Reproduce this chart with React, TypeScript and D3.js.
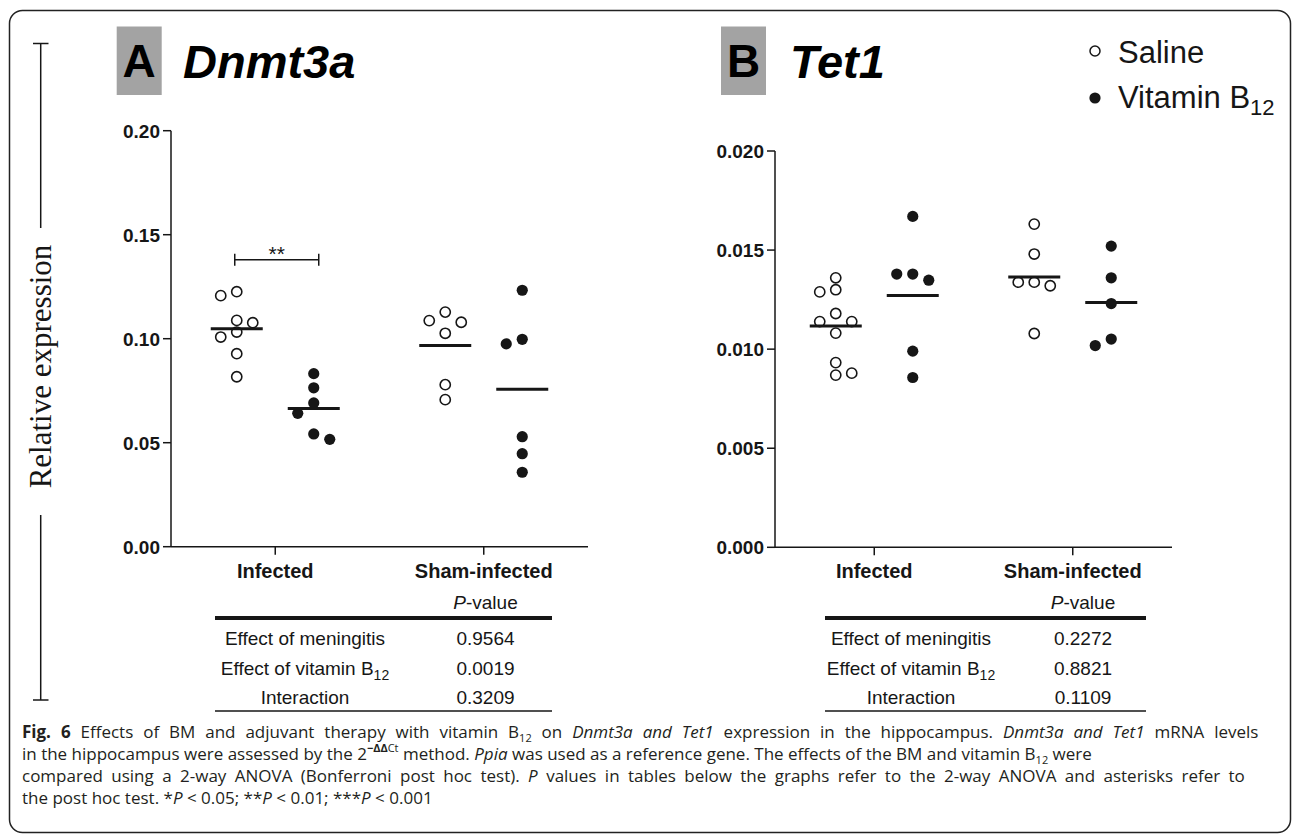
import React from 'react';
import * as d3 from 'd3';

// categories / groups
const categories = ['Infected', 'Sham-infected'];
const treatments = ['Saline', 'Vitamin B12'];

// Dnmt3a relative expression
const dnmt3aInfSaline = [0.1226, 0.1207, 0.1088, 0.1077, 0.1032, 0.1008, 0.0928, 0.0817];
const dnmt3aInfB12 = [0.0832, 0.0764, 0.0691, 0.0641, 0.0542, 0.0516];
const dnmt3aShamSaline = [0.1128, 0.1087, 0.1079, 0.1026, 0.0779, 0.0707];
const dnmt3aShamB12 = [0.1233, 0.0997, 0.0975, 0.0529, 0.0447, 0.0358];
const dnmt3aTicks = [0, 0.05, 0.1, 0.15, 0.2];
const dnmt3aPValues = ['0.9564', '0.0019', '0.3209'];
const dnmt3aSignif = { category: 'Infected', level: 0.138, label: '**' };

// Tet1 relative expression
const tet1InfSaline = [0.0136, 0.013, 0.01289, 0.0118, 0.01139, 0.01139, 0.01081, 0.00932, 0.00869, 0.00879];
const tet1InfB12 = [0.0167, 0.01379, 0.01348, 0.01379, 0.0099, 0.00857];
const tet1ShamSaline = [0.01631, 0.0148, 0.01338, 0.0132, 0.01338, 0.01079];
const tet1ShamB12 = [0.0152, 0.0136, 0.0123, 0.01051, 0.01018];
const tet1Ticks = [0, 0.005, 0.01, 0.015, 0.02];
const tet1PValues = ['0.2272', '0.8821', '0.1109'];

const effectLabels = ['Effect of meningitis', 'Effect of vitamin B', 'Interaction'];

const SANS = '"Liberation Sans", Arial, sans-serif';
const INK = '#161616';

// simple dot-plot dodge, similar to GraphPad column scatter
function swarm(values, y, cx) {
  const step = 8;
  const placed = [];
  let flip = -1;
  const sorted = values.map((v, i) => ({ v, i })).sort((a, b) => b.v - a.v);
  sorted.forEach((p) => {
    const py = y(p.v);
    let chosen = 0;
    for (let k = 0; k < 12; k++) {
      const cands = k === 0 ? [0] : [flip * k * step, -flip * k * step];
      const ok = cands.find((dx) =>
        placed.every((q) => Math.abs(q.y - py) >= 11 || Math.abs(q.dx - dx) >= 16)
      );
      if (ok !== undefined) {
        chosen = ok;
        break;
      }
    }
    if (chosen !== 0) flip = chosen > 0 ? -1 : 1;
    placed.push({ dx: chosen, y: py, v: p.v, i: p.i });
  });
  return placed.map((p) => ({ x: cx + p.dx, y: p.y }));
}

const Panel = ({ letter, boxX, gene, geneX, x0, x1, yBottom, yTop, ticks, fmt, groups, pValues, tableX0, tableX1, labelX, valueX, signif }) => {
  const y = d3.scaleLinear().domain([ticks[0], ticks[ticks.length - 1]]).range([yBottom, yTop]);
  const x = d3.scalePoint().domain(categories).range([x0, x1]).padding(0.5);
  const sub = d3.scalePoint().domain(treatments).range([-38.5, 38.5]);
  const format = d3.format(fmt);

  return (
    <g>
      {/* header */}
      <rect x={boxX} y={26.5} width={45} height={68.5} fill="#a3a3a3" />
      <text x={boxX + 22.5} y={77} textAnchor="middle" fontFamily={SANS} fontWeight="bold" fontSize={46} fill="#000">{letter}</text>
      <text x={geneX} y={78} fontFamily={SANS} fontWeight="bold" fontStyle="italic" fontSize={47} fill="#000">{gene}</text>

      {/* y axis */}
      <line x1={x0} x2={x0} y1={yTop} y2={yBottom} stroke={INK} strokeWidth={1.5} />
      {ticks.map((t) => (
        <g key={t}>
          <line x1={x0 - 8} x2={x0} y1={y(t)} y2={y(t)} stroke={INK} strokeWidth={1.5} />
          <text x={x0 - 11} y={y(t)} dy="0.36em" textAnchor="end" fontFamily={SANS} fontWeight="bold" fontSize={19} fill={INK}>
            {format(t)}
          </text>
        </g>
      ))}

      {/* x axis */}
      <line x1={x0} x2={x1} y1={yBottom} y2={yBottom} stroke={INK} strokeWidth={1.5} />
      {categories.map((c) => (
        <g key={c}>
          <line x1={x(c)} x2={x(c)} y1={yBottom} y2={yBottom + 8} stroke={INK} strokeWidth={1.5} />
          <text x={x(c)} y={578} textAnchor="middle" fontFamily={SANS} fontWeight="bold" fontSize={20} fill={INK}>{c}</text>
        </g>
      ))}

      {/* dots and means */}
      {groups.map((g) => {
        const cx = x(g.category) + sub(g.treatment);
        const pts = swarm(g.values, y, cx);
        const m = y(d3.mean(g.values));
        const filled = g.treatment !== 'Saline';
        return (
          <g key={g.category + g.treatment}>
            {pts.map((p, i) => (
              <circle key={i} cx={p.x} cy={p.y} r={filled ? 5.6 : 5.1}
                fill={filled ? INK : '#fff'} stroke={INK} strokeWidth={filled ? 0 : 1.6} />
            ))}
            <line x1={cx - 26} x2={cx + 26} y1={m} y2={m} stroke={INK} strokeWidth={3} />
          </g>
        );
      })}

      {/* post hoc bracket */}
      {signif && (() => {
        const xa = x(signif.category) + sub(treatments[0]) - 2;
        const xb = x(signif.category) + sub(treatments[1]) + 5;
        const yy = y(signif.level);
        return (
          <g>
            <line x1={xa} x2={xb} y1={yy} y2={yy} stroke={INK} strokeWidth={1.5} />
            <line x1={xa} x2={xa} y1={yy - 6} y2={yy + 6} stroke={INK} strokeWidth={1.5} />
            <line x1={xb} x2={xb} y1={yy - 6} y2={yy + 6} stroke={INK} strokeWidth={1.5} />
            <text x={(xa + xb) / 2} y={yy + 1} textAnchor="middle" fontFamily={SANS} fontSize={21} fill={INK}>{signif.label}</text>
          </g>
        );
      })()}

      {/* ANOVA table */}
      <text x={valueX} y={609} textAnchor="middle" fontFamily={SANS} fontSize={19} fill={INK}>
        <tspan fontStyle="italic">P</tspan>-value
      </text>
      <line x1={tableX0} x2={tableX1} y1={618} y2={618} stroke={INK} strokeWidth={4} />
      {effectLabels.map((lab, i) => (
        <g key={lab}>
          <text x={labelX} y={645 + i * 29.5} textAnchor="middle" fontFamily={SANS} fontSize={19} fill={INK}>
            {lab}
            {i === 1 && <tspan fontSize={14} dy={5}>12</tspan>}
          </text>
          <text x={valueX} y={645 + i * 29.5} textAnchor="middle" fontFamily={SANS} fontSize={19} fill={INK}>{pValues[i]}</text>
        </g>
      ))}
      <line x1={tableX0} x2={tableX1} y1={711} y2={711} stroke={INK} strokeWidth={1.5} />
    </g>
  );
};

const App = () => {
  const dnmt3aGroups = [
    { category: categories[0], treatment: treatments[0], values: dnmt3aInfSaline },
    { category: categories[0], treatment: treatments[1], values: dnmt3aInfB12 },
    { category: categories[1], treatment: treatments[0], values: dnmt3aShamSaline },
    { category: categories[1], treatment: treatments[1], values: dnmt3aShamB12 },
  ];
  const tet1Groups = [
    { category: categories[0], treatment: treatments[0], values: tet1InfSaline },
    { category: categories[0], treatment: treatments[1], values: tet1InfB12 },
    { category: categories[1], treatment: treatments[0], values: tet1ShamSaline },
    { category: categories[1], treatment: treatments[1], values: tet1ShamB12 },
  ];

  const capFont = '"Open Sans", "Noto Sans", sans-serif';

  return (
    <svg width={1292} height={835} style={{ position: 'absolute', left: 0, top: 0, background: '#fff' }}>
      <rect x={9.5} y={10.5} width={1281} height={822} rx={13} fill="#fff" stroke="#222" strokeWidth={1.5} />

      {/* shared y label with bracket */}
      <line x1={40.7} x2={40.7} y1={43.5} y2={228} stroke={INK} strokeWidth={1.5} />
      <line x1={33} x2={48.5} y1={43.5} y2={43.5} stroke={INK} strokeWidth={1.5} />
      <line x1={40.7} x2={40.7} y1={515} y2={700} stroke={INK} strokeWidth={1.5} />
      <line x1={33} x2={48.5} y1={700} y2={700} stroke={INK} strokeWidth={1.5} />
      <text transform="translate(51,366.5) rotate(-90)" textAnchor="middle"
        fontFamily='"Liberation Serif", "Times New Roman", serif' fontSize={31} fill={INK}>
        Relative expression
      </text>

      <Panel letter="A" boxX={116.7} gene="Dnmt3a" geneX={183}
        x0={171} x1={588} yBottom={546.7} yTop={130.7}
        ticks={dnmt3aTicks} fmt=".2f" groups={dnmt3aGroups} pValues={dnmt3aPValues}
        tableX0={215} tableX1={552} labelX={305} valueX={485.5} signif={dnmt3aSignif} />

      <Panel letter="B" boxX={721} gene="Tet1" geneX={790}
        x0={775} x1={1172} yBottom={547.3} yTop={151}
        ticks={tet1Ticks} fmt=".3f" groups={tet1Groups} pValues={tet1PValues}
        tableX0={825} tableX1={1146} labelX={911} valueX={1083} signif={null} />

      {/* legend */}
      <circle cx={1095} cy={51} r={5} fill="#fff" stroke={INK} strokeWidth={1.5} />
      <text x={1118} y={63} fontFamily={SANS} fontSize={31} fill={INK}>{treatments[0]}</text>
      <circle cx={1095} cy={98} r={5.6} fill={INK} />
      <text x={1118} y={108} fontFamily={SANS} fontSize={31} fill={INK}>
        Vitamin B<tspan fontSize={22} dy={7}>12</tspan>
      </text>

      {/* caption */}
      <g fontFamily={capFont} fontSize={17} fill="#231f20">
        <text x={22} y={738} style={{ wordSpacing: '5.5px' }}>
          <tspan fontWeight="bold">Fig. 6</tspan> Effects of BM and adjuvant therapy with vitamin B<tspan fontSize={11} dy={4}>12</tspan><tspan dy={-4}> on </tspan><tspan fontStyle="italic">Dnmt3a and Tet1</tspan> expression in the hippocampus. <tspan fontStyle="italic">Dnmt3a and Tet1</tspan> mRNA levels
        </text>
        <text x={22} y={760}>
          in the hippocampus were assessed by the 2<tspan fontSize={11} dy={-8} fontWeight="bold">−ΔΔ</tspan><tspan fontSize={11}>Ct</tspan><tspan dy={8}> method. </tspan><tspan fontStyle="italic">Ppia</tspan> was used as a reference gene. The effects of the BM and vitamin B<tspan fontSize={11} dy={4}>12</tspan><tspan dy={-4}> were</tspan>
        </text>
        <text x={22} y={782} style={{ wordSpacing: '4px' }}>
          compared using a 2-way ANOVA (Bonferroni post hoc test). <tspan fontStyle="italic">P</tspan> values in tables below the graphs refer to the 2-way ANOVA and asterisks refer to
        </text>
        <text x={22} y={804}>
          the post hoc test. *<tspan fontStyle="italic">P</tspan> &lt; 0.05; **<tspan fontStyle="italic">P</tspan> &lt; 0.01; ***<tspan fontStyle="italic">P</tspan> &lt; 0.001
        </text>
      </g>
    </svg>
  );
};

export default App;
